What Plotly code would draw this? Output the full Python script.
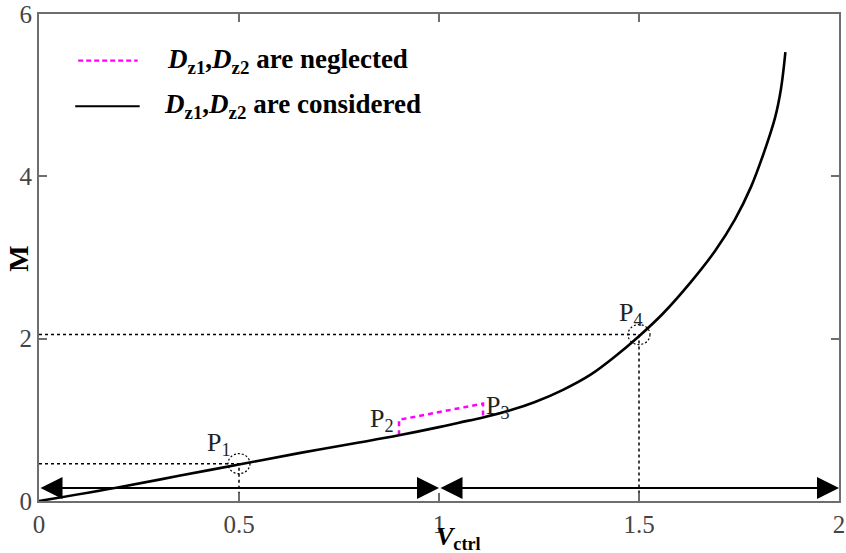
import plotly.graph_objects as go

# M versus V_ctrl with the parasitic diodes D_z1, D_z2 taken into account
v_ctrl = [0, 0.2, 0.35, 0.5, 0.65, 0.8, 0.9, 1.0, 1.05, 1.11, 1.18, 1.24, 1.31,
          1.38, 1.44, 1.5, 1.56, 1.63, 1.69, 1.74, 1.78, 1.81, 1.84, 1.855, 1.866]
m_considered = [0, 0.17, 0.31, 0.45, 0.59, 0.72, 0.81, 0.91, 0.965, 1.03, 1.12, 1.22,
                1.37, 1.56, 1.78, 2.03, 2.31, 2.70, 3.08, 3.47, 3.87, 4.26, 4.72,
                5.08, 5.53]

# segment P2-P3 when D_z1, D_z2 are neglected (with drops to the solid curve)
v_neglected = [0.9, 0.9, 1.11, 1.11]
m_neglected = [0.81, 1.0, 1.20, 1.03]

# marked operating points
p_names = ["P<sub>1</sub>", "P<sub>2</sub>", "P<sub>3</sub>", "P<sub>4</sub>"]
p_v = [0.5, 0.9, 1.11, 1.5]
p_m = [0.46, 1.0, 1.20, 2.05]

# region arrows along the bottom
arrow_m = 0.16
arrow_spans = [(0, 1), (1, 2)]

x_ticks = [0, 0.5, 1, 1.5, 2]
x_tick_text = ["0", "0.5", "1", "1.5", "2"]
y_ticks = [0, 2, 4, 6]
y_tick_text = ["0", "2", "4", "6"]

legend_texts = ["<b><i>D</i><sub>z1</sub>,<i>D</i><sub>z2</sub> are neglected</b>",
                "<b><i>D</i><sub>z1</sub>,<i>D</i><sub>z2</sub> are considered</b>"]

SERIF = "Liberation Serif, Times New Roman, serif"
W, H = 846, 553
ML, MR, MT, MB = 38.5, 1, 10, 52
PW, PH = W - ML - MR, H - MT - MB


def px(x):
    return (x - ML) / PW


def py(y):
    return (H - MB - y) / PH


fig = go.Figure()

# dotted guides to P1 and P4
for i in (0, 3):
    fig.add_trace(go.Scatter(x=[0, p_v[i], p_v[i]], y=[p_m[i], p_m[i], 0],
                             mode="lines", line=dict(color="black", width=1.5, dash="3px,3px"),
                             showlegend=False, hoverinfo="skip"))

fig.add_trace(go.Scatter(x=v_neglected, y=m_neglected, mode="lines",
                         line=dict(color="#FF00FF", width=2.5, dash="5px,4px"),
                         showlegend=False))
fig.add_trace(go.Scatter(x=v_ctrl, y=m_considered, mode="lines",
                         line=dict(color="black", width=2.6, shape="spline", smoothing=1.0),
                         showlegend=False))

# double-headed arrows
for a, b in arrow_spans:
    fig.add_annotation(x=b, y=arrow_m, ax=a, ay=arrow_m, xref="x", yref="y",
                       axref="x", ayref="y", text="", showarrow=True,
                       arrowhead=2, startarrowhead=2, arrowside="end+start",
                       arrowsize=2.2, startarrowsize=2.2, arrowwidth=2,
                       arrowcolor="black", standoff=0, startstandoff=0)

# dashed circles around P1 and P4
for i in (0, 3):
    fig.add_shape(type="circle", xref="x", yref="y", xsizemode="pixel", ysizemode="pixel",
                  xanchor=p_v[i], yanchor=p_m[i], x0=-11, x1=11, y0=-10, y1=10,
                  line=dict(color="black", width=1.2, dash="2px,2px"))

# point labels
label_pos = [("right", -6, 20), ("right", -3, 0), ("left", 1, -3), ("center", -8, 21)]
for name, v, m, (anc, dx, dy) in zip(p_names, p_v, p_m, label_pos):
    fig.add_annotation(x=v, y=m, xref="x", yref="y", text=name, showarrow=False,
                       xanchor=anc, yanchor="middle", xshift=dx, yshift=dy,
                       font=dict(family=SERIF, size=26, color="#222"))

# legend
legend_rows = [(57, "#FF00FF", "5px,3px", 78, 138, 166),
               (103, "black", "solid", 75, 140, 163)]
for (yy, col, dash, x0, x1, tx), txt in zip(legend_rows, legend_texts):
    fig.add_shape(type="line", xref="paper", yref="paper", x0=px(x0), x1=px(x1),
                  y0=py(yy), y1=py(yy), line=dict(color=col, width=2.2, dash=dash))
    fig.add_annotation(xref="paper", yref="paper", x=px(tx), y=py(yy), text=txt,
                       showarrow=False, xanchor="left", yanchor="middle",
                       font=dict(family=SERIF, size=27, color="black"))

# axis titles
fig.add_annotation(xref="paper", yref="paper", x=px(18), y=py(257), text="<b>M</b>",
                   textangle=-90, showarrow=False, xanchor="center", yanchor="middle",
                   font=dict(family=SERIF, size=28, color="black"))
fig.add_annotation(xref="paper", yref="paper", x=px(461), y=py(538),
                   text="<b><i>V</i><sub>ctrl</sub></b>", showarrow=False,
                   xanchor="center", yanchor="middle",
                   font=dict(family=SERIF, size=26, color="black"))

axis_common = dict(showgrid=False, zeroline=False, showline=True, linecolor="#6e6e6e",
                   linewidth=2, mirror="ticks", ticks="inside", ticklen=8,
                   tickcolor="#6e6e6e", tickwidth=1.5, ticklabeloverflow="allow",
                   tickfont=dict(family=SERIF, size=25, color="#444"))

fig.update_layout(
    width=W, height=H,
    margin=dict(l=ML, r=MR, t=MT, b=MB),
    paper_bgcolor="white", plot_bgcolor="white",
    showlegend=False,
    xaxis=dict(range=[0, 2], tickvals=x_ticks, ticktext=x_tick_text, **axis_common),
    yaxis=dict(range=[0, 6], tickvals=y_ticks, ticktext=y_tick_text, **axis_common),
)

fig.write_html("out.html")
